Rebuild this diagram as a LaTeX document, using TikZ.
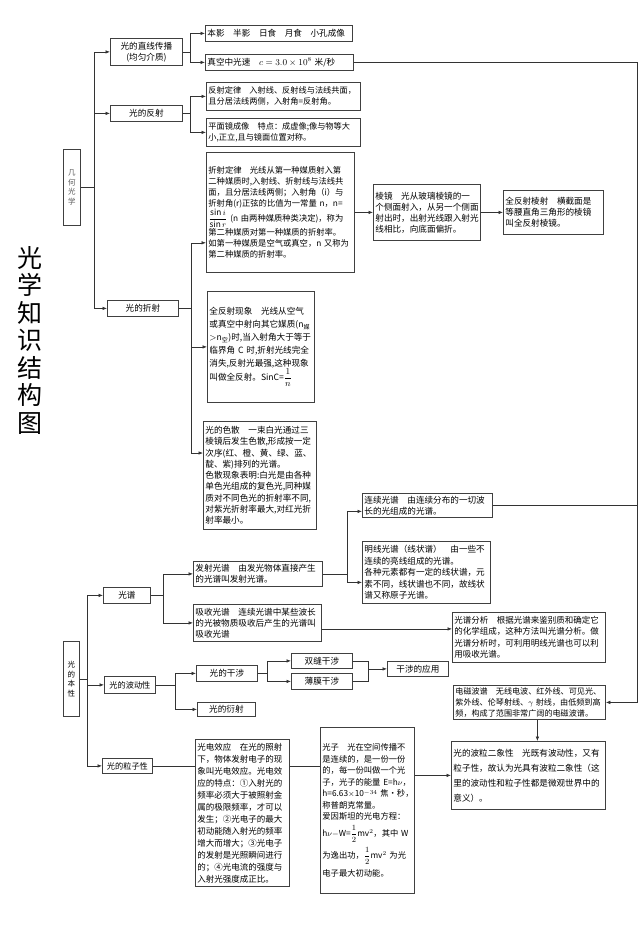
\documentclass[tikz,border=0pt]{standalone}
\usepackage{fontspec}
\setmainfont{Noto Sans CJK SC}
\usetikzlibrary{arrows.meta}

\tikzset{
  textbox/.style={draw=black!75, line width=0.8pt, inner sep=2pt, anchor=north west, align=left, font=\fontsize{8.6}{11}\selectfont},
  labelbox/.style={textbox, align=center},
  upbox/.style={textbox, align=center, inner sep=1pt, font=\fontsize{7.5}{9.5}\selectfont},
  link/.style={black!80, line width=0.6pt},
  arr/.style={link, -{Latex[length=4.5pt,width=3.5pt]}}
}

\begin{document}
\begin{tikzpicture}[x=1pt,y=1pt]

      \fill[white] (0,0) rectangle (640,-946);

      % Title
      \node[font=\fontsize{25}{27.5}\selectfont, align=center] (title) at (30,-340) {光\\学\\知\\识\\结\\构\\图};

      % Geometric optics
      \node[upbox, text=black!65, text width=15, minimum height=76] (jhgx) at (63,-149) {几\\何\\光\\学};
      \node[labelbox, text width=68, minimum height=27] (zxcb) at (110,-38) {光的直线传播\\(均匀介质)};
      \node[labelbox, text width=68, minimum height=16] (fs) at (110,-105) {光的反射};
      \node[labelbox, text width=67, minimum height=16] (zs) at (107,-300) {光的折射};

      \node[textbox, text width=143, minimum height=16] (by) at (205,-25) {本影\quad 半影\quad 日食\quad 月食\quad 小孔成像};
      \node[textbox, text width=144, minimum height=16] (gs) at (205,-54) {真空中光速\quad $c=3.0\times10^8$ 米/秒};
      \node[textbox, text width=150, minimum height=28, font=\fontsize{8.2}{11}\selectfont] (fsdl) at (206,-82) {反射定律\quad 入射线、反射线与法线共面，\\且分居法线两侧，入射角=反射角。};
      \node[textbox, text width=150, minimum height=28, font=\fontsize{8.2}{11}\selectfont] (pmj) at (206,-118) {平面镜成像\quad 特点：成虚像;像与物等大\\小,正立,且与镜面位置对称。};

      \node[textbox, text width=144, minimum height=120, font=\fontsize{8.3}{11}\selectfont] (zsdl) at (206,-152) {折射定律\quad 光线从第一种媒质射入第\\二种媒质时,入射线、折射线与法线共\\面，且分居法线两侧；入射角（i）与\\折射角(r)正弦的比值为一常量~n，n=\\$\displaystyle\frac{\sin i}{\sin r}$~(n~由两种媒质种类决定)，称为\\第二种媒质对第一种媒质的折射率。\\如第一种媒质是空气或真空，n~又称为\\第二种媒质的折射率。};
      \node[textbox, text width=103, minimum height=56] (lj) at (373,-184) {棱镜\quad 光从玻璃棱镜的一\\个侧面射入，从另一个侧面\\射出时，出射光线跟入射光\\线相比，向底面偏折。};
      \node[textbox, text width=96, minimum height=44] (qfslj) at (503,-190) {全反射棱射\quad 横截面是\\等腰直角三角形的棱镜\\叫全反射棱镜。};
      \node[textbox, text width=103, minimum height=111, font=\fontsize{8.6}{13}\selectfont] (qfsxx) at (207,-291) {全反射现象\quad 光线从空气\\或真空中射向其它媒质(n\textsubscript{媒}\\$>$n\textsubscript{空})时,当入射角大于等于\\临界角~C~时,折射光线完全\\消失,反射光最强,这种现象\\叫做全反射。SinC=$\displaystyle\frac{1}{n}$};
      \node[textbox, text width=109, minimum height=108, font=\fontsize{8.6}{11.3}\selectfont] (sesan) at (203,-421) {光的色散\quad 一束白光通过三\\棱镜后发生色散,形成按一定\\次序(红、橙、黄、绿、蓝、\\靛、紫)排列的光谱。\\色散现象表明:白光是由各种\\单色光组成的复色光,同种媒\\质对不同色光的折射率不同,\\对紫光折射率最大,对红光折\\射率最小。};

      % Nature of light
      \node[upbox, text width=14, minimum height=75] (bx) at (63,-641) {光\\的\\本\\性};
      \node[labelbox, text width=43, minimum height=16] (gp) at (103,-587) {光谱};
      \node[labelbox, text width=47, minimum height=17, font=\fontsize{8.2}{11}\selectfont] (bdx) at (104,-676) {光的波动性};
      \node[labelbox, text width=46, minimum height=15, font=\fontsize{8.2}{11}\selectfont] (lzx) at (102,-758) {光的粒子性};

      \node[textbox, text width=125, minimum height=25] (fsgp) at (193,-561) {发射光谱\quad 由发光物体直接产生\\的光谱叫发射光谱。};
      \node[textbox, text width=124, minimum height=37] (xsgp) at (193,-604) {吸收光谱\quad 连续光谱中某些波长\\的光被物质吸收后产生的光谱叫\\吸收光谱};
      \node[textbox, text width=126, minimum height=24] (lxgp) at (362,-493) {连续光谱\quad 由连续分布的一切波\\长的光组成的光谱。};
      \node[textbox, text width=124, minimum height=62, font=\fontsize{8.6}{11.5}\selectfont] (mxgp) at (362,-541) {明线光谱（线状谱）\quad 由一些不\\连续的亮线组成的光谱。\\各种元素都有一定的线状谱，元\\素不同，线状谱也不同，故线状\\谱又称原子光谱。};
      \node[textbox, text width=149, minimum height=50, font=\fontsize{8.5}{11.5}\selectfont] (gpfx) at (452,-612) {光谱分析\quad 根据光谱来鉴别质和确定它\\的化学组成，这种方法叫光谱分析。做\\光谱分析时，可利用明线光谱也可以利\\用吸收光谱。};

      \node[labelbox, text width=57, minimum height=16] (gdgs) at (196,-665) {光的干涉};
      \node[labelbox, text width=54, minimum height=14] (ys) at (197,-702) {光的衍射};
      \node[labelbox, text width=57, minimum height=15] (sf) at (291,-653) {双缝干涉};
      \node[labelbox, text width=57, minimum height=16] (bm) at (291,-673) {薄膜干涉};
      \node[labelbox, text width=57, minimum height=15] (gsyy) at (387,-661) {干涉的应用};
      \node[textbox, text width=148, minimum height=34, font=\fontsize{8.1}{11}\selectfont] (dc) at (453,-685) {电磁波谱\quad 无线电波、红外线、可见光、\\紫外线、伦琴射线、$\gamma$~射线，由低频到高\\频，构成了范围非常广阔的电磁波谱。};

      \node[textbox, text width=90, minimum height=147, font=\fontsize{8.5}{12}\selectfont] (gdxy) at (195,-739) {光电效应\quad 在光的照射\\下，物体发射电子的现\\象叫光电效应。光电效\\应的特点：①入射光的\\频率必须大于被照射金\\属的极限频率，才可以\\发生；②光电子的最大\\初动能随入射光的频率\\增大而增大；③光电子\\的发射是光照瞬间进行\\的；④光电流的强度与\\入射光强度成正比。};
      \node[textbox, text width=90, minimum height=166, font=\fontsize{8.3}{11.5}\selectfont] (gz) at (320,-727) {光子\quad 光在空间传播不\\是连续的，是一份一份\\的，每一份叫做一个光\\子，光子的能量~E=h$\nu$，\\h=6.63$\times$10$^{-34}$~焦·秒，\\称普朗克常量。\\爱因斯坦的光电方程：\\[4pt]h$\nu-$W=$\displaystyle\frac{1}{2}$mv$^2$，其中~W\\[4pt]为逸出功，$\displaystyle\frac{1}{2}$mv$^2$~为光\\[4pt]电子最大初动能。};
      \node[textbox, text width=150, minimum height=68, font=\fontsize{8.6}{15}\selectfont] (blex) at (451,-741) {光的波粒二象性\quad 光既有波动性，又有\\粒子性，故认为光具有波粒二象性（这\\里的波动性和粒子性都是微观世界中的\\意义）。};

      % Geometric optics links
      \coordinate (jtrunk) at (94,0);
      \draw[link] (jhgx.east) -- (jhgx.east -| jtrunk);
      \draw[arr] (jhgx.east -| jtrunk) |- (zxcb.west);
      \draw[arr] (jhgx.east -| jtrunk) |- (fs.west);
      \draw[arr] (jhgx.east -| jtrunk) |- (zs.west);

      \coordinate (gsplit) at (190,0);
      \draw[arr] (zxcb.east) -- (zxcb.east -| gsplit) |- (by.west);
      \draw[arr] (zxcb.east -| gsplit) |- (gs.west);
      \draw[arr] (fs.east) -- (fs.east -| gsplit) |- (fsdl.west);
      \draw[arr] (fs.east -| gsplit) |- (pmj.west);

      \coordinate (zsplit) at (191,0);
      \draw[link] (zs.east) -- (zs.east -| zsplit);
      \draw[arr] (zsplit |- zs.east) |- ([yshift=30]zsdl.south west);
      \draw[arr] (zsplit |- zs.east) |- (qfsxx.west);
      \draw[arr] (zsplit |- zs.east) |- ([yshift=-32]sesan.north west);

      \draw[arr] (zsdl.east) -- (lj.west);
      \draw[arr] (lj.east) -- (qfslj.west);

      % Right-hand trunk
      \coordinate (rtrunk) at (637,0);
      \draw[arr] (gs.east) -- (gs.east -| rtrunk) |- (dc.east);
      \draw[link] (lxgp.east) -- (lxgp.east -| rtrunk);

      % Nature of light links
      \coordinate (btrunk) at (87,0);
      \draw[link] (bx.east) -- (bx.east -| btrunk);
      \draw[arr] (bx.east -| btrunk) |- (gp.west);
      \draw[arr] (bx.east -| btrunk) |- (bdx.west);
      \draw[arr] (bx.east -| btrunk) |- (lzx.west);

      \coordinate (psplit) at (163,0);
      \draw[arr] (gp.east) -- (gp.east -| psplit) |- (fsgp.west);
      \draw[arr] (gp.east -| psplit) |- (xsgp.west);
      \coordinate (fsplit) at (347,0);
      \draw[arr] (fsgp.east) -- (fsgp.east -| fsplit) |- ([yshift=-6]lxgp.west);
      \draw[arr] (fsgp.east -| fsplit) |- ([yshift=-10]mxgp.west);
      \draw[arr] ([yshift=-6]xsgp.east) -- ([yshift=-6]xsgp.east -| gpfx.west);

      \coordinate (wsplit) at (175,0);
      \draw[arr] (bdx.east) -- (bdx.east -| wsplit) |- (gdgs.west);
      \draw[arr] (bdx.east -| wsplit) |- (ys.west);
      \coordinate (isplit) at (267,0);
      \draw[arr] (gdgs.east) -- (gdgs.east -| isplit) |- (sf.west);
      \draw[arr] (gdgs.east -| isplit) |- (bm.west);
      \coordinate (ajoin) at (368,0);
      \draw[link] (sf.east) -| (ajoin |- bm.east) -- (bm.east);
      \draw[arr] (ajoin |- gsyy.west) -- (gsyy.west);

      \draw[link] (lzx.east) -- (lzx.east -| gdxy.west);
      \draw[link] (gdxy.east |- lzx.east) -- (gz.west |- lzx.east);
      \draw[arr] (gz.east |- blex.west) -- (blex.west);
      \draw[arr] ([xshift=8]dc.south) -- ([xshift=8]dc.south |- blex.north);

\end{tikzpicture}
\end{document}
